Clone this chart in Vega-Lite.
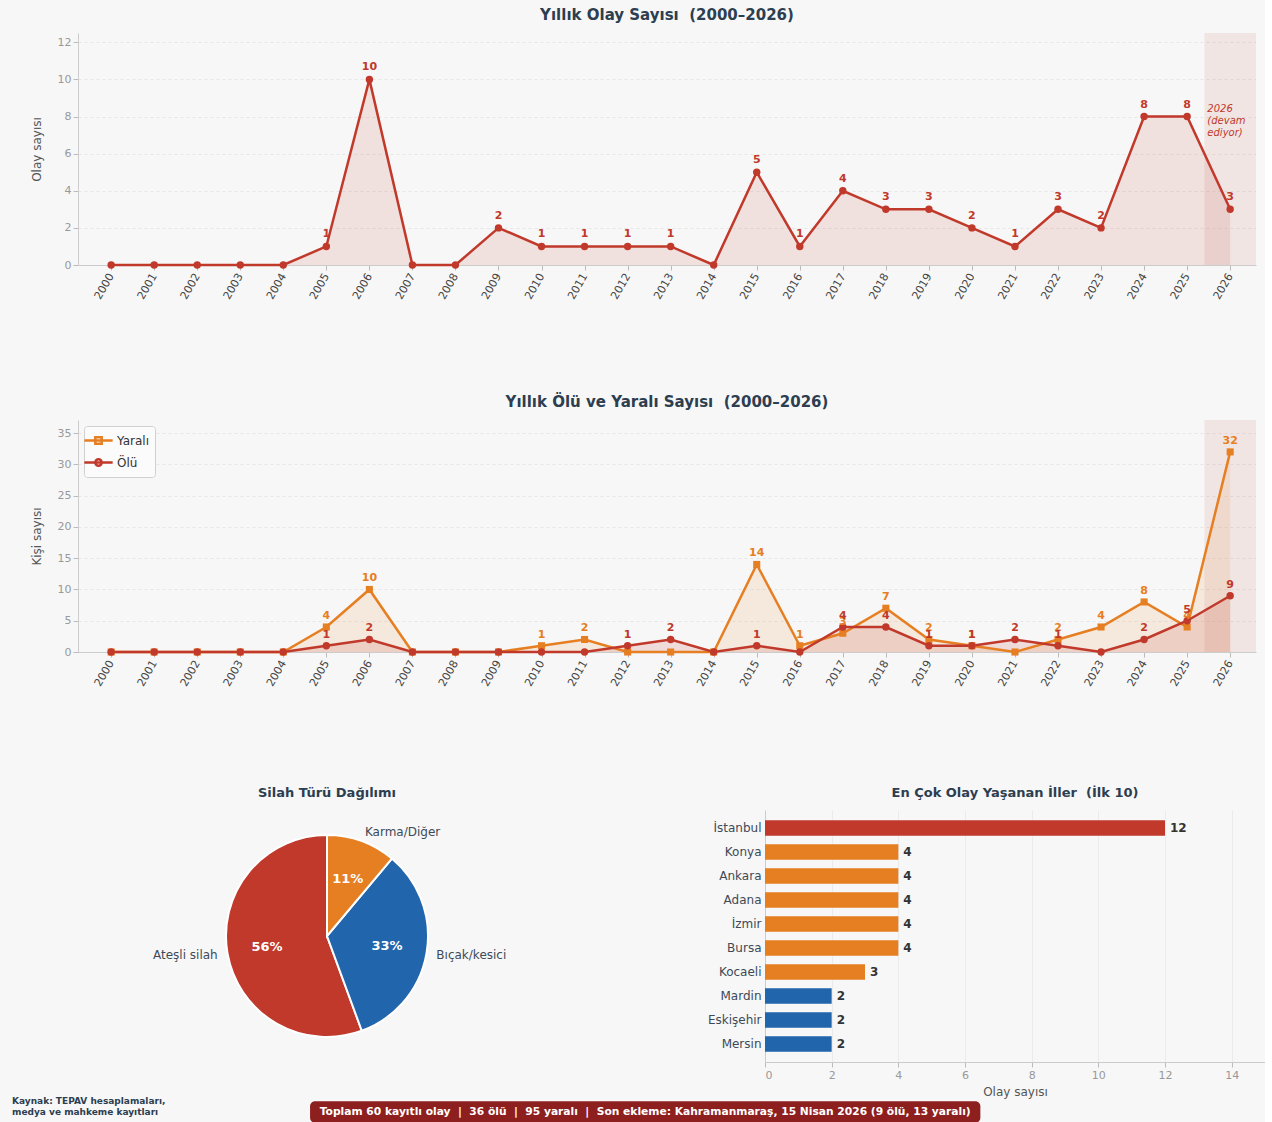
{
  "$schema": "https://vega.github.io/schema/vega-lite/v6.json",
  "background": "#f7f7f7",
  "padding": {"left": 12, "top": 8, "right": 0, "bottom": 0},
  "config": {
    "font": "DejaVu Sans",
    "view": {"stroke": null},
    "axis": {"domainColor": "#cccccc", "tickColor": "#bbbbbb", "labelColor": "#999999", "titleColor": "#555555", "titleFontWeight": "normal", "titleFontSize": 12, "labelFontSize": 11, "gridColor": "#e6e6e6", "gridDash": [3, 3]},
    "title": {"color": "#2c3e50", "fontSize": 15, "fontWeight": "bold", "anchor": "middle"}
  },
  "datasets": {
    "yearly": [
      {"yil": 2000, "Olay": 0, "Yaralı": 0, "Ölü": 0},
      {"yil": 2001, "Olay": 0, "Yaralı": 0, "Ölü": 0},
      {"yil": 2002, "Olay": 0, "Yaralı": 0, "Ölü": 0},
      {"yil": 2003, "Olay": 0, "Yaralı": 0, "Ölü": 0},
      {"yil": 2004, "Olay": 0, "Yaralı": 0, "Ölü": 0},
      {"yil": 2005, "Olay": 1, "Yaralı": 4, "Ölü": 1},
      {"yil": 2006, "Olay": 10, "Yaralı": 10, "Ölü": 2},
      {"yil": 2007, "Olay": 0, "Yaralı": 0, "Ölü": 0},
      {"yil": 2008, "Olay": 0, "Yaralı": 0, "Ölü": 0},
      {"yil": 2009, "Olay": 2, "Yaralı": 0, "Ölü": 0},
      {"yil": 2010, "Olay": 1, "Yaralı": 1, "Ölü": 0},
      {"yil": 2011, "Olay": 1, "Yaralı": 2, "Ölü": 0},
      {"yil": 2012, "Olay": 1, "Yaralı": 0, "Ölü": 1},
      {"yil": 2013, "Olay": 1, "Yaralı": 0, "Ölü": 2},
      {"yil": 2014, "Olay": 0, "Yaralı": 0, "Ölü": 0},
      {"yil": 2015, "Olay": 5, "Yaralı": 14, "Ölü": 1},
      {"yil": 2016, "Olay": 1, "Yaralı": 1, "Ölü": 0},
      {"yil": 2017, "Olay": 4, "Yaralı": 3, "Ölü": 4},
      {"yil": 2018, "Olay": 3, "Yaralı": 7, "Ölü": 4},
      {"yil": 2019, "Olay": 3, "Yaralı": 2, "Ölü": 1},
      {"yil": 2020, "Olay": 2, "Yaralı": 1, "Ölü": 1},
      {"yil": 2021, "Olay": 1, "Yaralı": 0, "Ölü": 2},
      {"yil": 2022, "Olay": 3, "Yaralı": 2, "Ölü": 1},
      {"yil": 2023, "Olay": 2, "Yaralı": 4, "Ölü": 0},
      {"yil": 2024, "Olay": 8, "Yaralı": 8, "Ölü": 2},
      {"yil": 2025, "Olay": 8, "Yaralı": 4, "Ölü": 5},
      {"yil": 2026, "Olay": 3, "Yaralı": 32, "Ölü": 9}
    ],
    "silah": [
      {"tur": "Ateşli silah", "pay": 55.6, "etiket": "56%"},
      {"tur": "Bıçak/kesici", "pay": 33.3, "etiket": "33%"},
      {"tur": "Karma/Diğer", "pay": 11.1, "etiket": "11%"}
    ],
    "iller": [
      {"il": "İstanbul", "n": 12},
      {"il": "Konya", "n": 4},
      {"il": "Ankara", "n": 4},
      {"il": "Adana", "n": 4},
      {"il": "İzmir", "n": 4},
      {"il": "Bursa", "n": 4},
      {"il": "Kocaeli", "n": 3},
      {"il": "Mardin", "n": 2},
      {"il": "Eskişehir", "n": 2},
      {"il": "Mersin", "n": 2}
    ]
  },
  "resolve": {"scale": {"color": "independent", "shape": "independent", "stroke": "independent"}, "legend": {"color": "independent", "shape": "independent", "stroke": "independent"}},
  "vconcat": [
    {
      "resolve": {"scale": {"color": "independent", "shape": "independent", "stroke": "independent"}, "legend": {"color": "independent", "shape": "independent", "stroke": "independent"}},
      "vconcat": [
        {
          "resolve": {"scale": {"color": "independent", "shape": "independent", "stroke": "independent"}, "legend": {"color": "independent", "shape": "independent", "stroke": "independent"}},
          "vconcat": [
            {
              "width": 1178,
              "height": 232,
              "title": {"text": "Yıllık Olay Sayısı\u00a0\u00a0(2000–2026)", "offset": 10},
              "data": {"name": "yearly"},
              "encoding": {
                "x": {"field": "yil", "type": "quantitative", "scale": {"domain": [1999.23, 2026.6], "nice": false, "zero": false},
                  "axis": {"values": [2000,2001,2002,2003,2004,2005,2006,2007,2008,2009,2010,2011,2012,2013,2014,2015,2016,2017,2018,2019,2020,2021,2022,2023,2024,2025,2026], "format": "d", "labelAngle": -60, "labelAlign": "right", "labelBaseline": "middle", "labelColor": "#444444", "grid": false, "title": null, "labelPadding": 4, "labelOverlap": false}},
                "y": {"field": "Olay", "type": "quantitative", "scale": {"domain": [0, 12.5], "nice": false},
                  "axis": {"values": [0,2,4,6,8,10,12], "tickCount": 7, "title": "Olay sayısı", "grid": true, "titlePadding": 14, "labelOverlap": false}}
              },
              "layer": [
                {
                  "transform": [{"filter": "datum.yil === 2026"}],
                  "mark": {"type": "rect", "color": "#c0392b", "opacity": 0.09},
                  "encoding": {
                    "x": {"datum": 2025.4, "type": "quantitative"},
                    "x2": {"datum": 2026.6},
                    "y": {"datum": 0, "type": "quantitative"},
                    "y2": {"datum": 12.5}
                  }
                },
                {"mark": {"type": "area", "color": "#c0392b", "opacity": 0.12}},
                {"mark": {"type": "line", "color": "#c0392b", "strokeWidth": 2.5}},
                {"mark": {"type": "point", "filled": true, "color": "#c0392b", "size": 55, "opacity": 1}},
                {
                  "transform": [{"filter": "datum.Olay > 0"}],
                  "mark": {"type": "text", "color": "#c0392b", "fontWeight": "bold", "fontSize": 11, "dy": -12},
                  "encoding": {"text": {"field": "Olay"}}
                },
                {
                  "transform": [{"filter": "datum.yil === 2026"}],
                  "mark": {"type": "text", "text": ["2026", "(devam", "ediyor)"], "align": "left", "baseline": "top", "fontStyle": "italic", "fontSize": 10, "lineHeight": 12, "color": "#c0392b"},
                  "encoding": {"x": {"datum": 2025.47, "type": "quantitative"}, "y": {"datum": 8.65, "type": "quantitative"}}
                }
              ]
            },
            {
              "width": 1178,
              "height": 232,
              "title": {"text": "Yıllık Ölü ve Yaralı Sayısı\u00a0\u00a0(2000–2026)", "offset": 10},
              "data": {"name": "yearly"},
              "transform": [{"fold": ["Yaralı", "Ölü"], "as": ["tur", "deger"]}],
              "encoding": {
                "x": {"field": "yil", "type": "quantitative", "scale": {"domain": [1999.23, 2026.6], "nice": false, "zero": false},
                  "axis": {"values": [2000,2001,2002,2003,2004,2005,2006,2007,2008,2009,2010,2011,2012,2013,2014,2015,2016,2017,2018,2019,2020,2021,2022,2023,2024,2025,2026], "format": "d", "labelAngle": -60, "labelAlign": "right", "labelBaseline": "middle", "labelColor": "#444444", "grid": false, "title": null, "labelPadding": 4, "labelOverlap": false}},
                "y": {"field": "deger", "type": "quantitative", "stack": null, "scale": {"domain": [0, 37.1], "nice": false},
                  "axis": {"values": [0,5,10,15,20,25,30,35], "tickCount": 8, "title": "Kişi sayısı", "grid": true, "titlePadding": 14, "labelOverlap": false}}
              },
              "layer": [
                {
                  "transform": [{"filter": "datum.yil === 2026 && datum.tur === 'Ölü'"}],
                  "mark": {"type": "rect", "color": "#c0392b", "opacity": 0.09},
                  "encoding": {
                    "x": {"datum": 2025.4, "type": "quantitative"},
                    "x2": {"datum": 2026.6},
                    "y": {"datum": 0, "type": "quantitative"},
                    "y2": {"datum": 37.1}
                  }
                },
                {
                  "transform": [{"filter": "datum.tur === 'Yaralı'"}],
                  "mark": {"type": "area", "opacity": 0.12, "color": "#e67e22"}
                },
                {
                  "transform": [{"filter": "datum.tur === 'Ölü'"}],
                  "mark": {"type": "area", "opacity": 0.14, "color": "#c0392b"}
                },
                {
                  "transform": [{"filter": "datum.tur === 'Yaralı'"}],
                  "mark": {"type": "line", "strokeWidth": 2.5, "color": "#e67e22"}
                },
                {
                  "transform": [{"filter": "datum.tur === 'Ölü'"}],
                  "mark": {"type": "line", "strokeWidth": 2.5, "color": "#c0392b"}
                },
                {
                  "transform": [{"filter": "datum.tur === 'Yaralı'"}],
                  "mark": {"type": "square", "size": 50, "opacity": 1, "color": "#e67e22"}
                },
                {
                  "transform": [{"filter": "datum.tur === 'Ölü'"}],
                  "mark": {"type": "circle", "size": 55, "opacity": 1, "color": "#c0392b"}
                },
                {
                  "transform": [{"filter": "datum.deger > 0 && datum.tur === 'Yaralı'"}],
                  "mark": {"type": "text", "fontWeight": "bold", "fontSize": 11, "dy": -11, "color": "#e67e22"},
                  "encoding": {"text": {"field": "deger"}}
                },
                {
                  "transform": [{"filter": "datum.deger > 0 && datum.tur === 'Ölü'"}],
                  "mark": {"type": "text", "fontWeight": "bold", "fontSize": 11, "dy": -11, "color": "#c0392b"},
                  "encoding": {"text": {"field": "deger"}}
                },
                {
                  "transform": [{"filter": "datum.yil === 2000"}],
                  "mark": {"type": "point", "filled": true, "opacity": 0},
                  "encoding": {
                    "color": {"field": "tur", "type": "nominal", "scale": {"domain": ["Yaralı", "Ölü"], "range": ["#e67e22", "#c0392b"]}, "legend": {"title": null, "orient": "top-left", "offset": 6, "fillColor": "#fbfbfb", "strokeColor": "#d0d0d0", "padding": 6, "cornerRadius": 3, "labelFontSize": 12, "labelColor": "#333333", "symbolSize": 200, "symbolOpacity": 1, "symbolStrokeWidth": 2.5, "rowPadding": 5, "labelOffset": 10}},
                    "stroke": {"field": "tur", "type": "nominal", "scale": {"domain": ["Yaralı", "Ölü"], "range": ["#e67e22", "#c0392b"]}},
                    "shape": {"field": "tur", "type": "nominal", "scale": {"domain": ["Yaralı", "Ölü"], "range": ["M-2,0H2M-0.45,-0.45H0.45V0.45H-0.45Z", "M-2,0H2M0.45,0A0.45,0.45,0,1,1,-0.45,0A0.45,0.45,0,1,1,0.45,0Z"]}}
                  }
                }
              ]
            }
          ],
          "spacing": 94
        },
        {
          "hconcat": [
            {
              "width": 498,
              "height": 252,
              "title": {"text": "Silah Türü Dağılımı", "fontSize": 13, "offset": 10},
              "data": {"name": "silah"},
              "encoding": {
                "theta": {"field": "pay", "type": "quantitative", "stack": true},
                "order": {"field": "tur", "sort": "descending"}
              },
              "layer": [
                {
                  "mark": {"type": "arc", "outerRadius": 101, "stroke": "#ffffff", "strokeWidth": 2},
                  "encoding": {"color": {"field": "tur", "type": "nominal", "scale": {"domain": ["Ateşli silah", "Bıçak/kesici", "Karma/Diğer"], "range": ["#c0392b", "#2166ac", "#e67e22"]}, "legend": null}}
                },
                {
                  "mark": {"type": "text", "radius": 61, "color": "#ffffff", "fontWeight": "bold", "fontSize": 13},
                  "encoding": {"text": {"field": "etiket"}}
                },
                {
                  "mark": {"type": "text", "radius": 111, "align": "left", "baseline": "middle", "color": "#3d4a57", "fontSize": 12},
                  "encoding": {"text": {"condition": {"test": "datum.tur !== 'Ateşli silah'", "field": "tur"}, "value": ""}}
                },
                {
                  "mark": {"type": "text", "radius": 111, "align": "right", "baseline": "middle", "color": "#3d4a57", "fontSize": 12},
                  "encoding": {"text": {"condition": {"test": "datum.tur === 'Ateşli silah'", "field": "tur"}, "value": ""}}
                }
              ]
            },
            {
              "width": 500,
              "height": 252,
              "title": {"text": "En Çok Olay Yaşanan İller\u00a0\u00a0(İlk 10)", "fontSize": 13, "offset": 10},
              "data": {"name": "iller"},
              "encoding": {
                "y": {"field": "il", "type": "nominal", "sort": null, "scale": {"paddingInner": 0, "paddingOuter": 0.25},
                  "axis": {"title": null, "labelFontSize": 12, "labelColor": "#3d4a57", "ticks": false, "labelPadding": 4}},
                "x": {"field": "n", "type": "quantitative", "scale": {"domain": [0, 15], "nice": false},
                  "axis": {"values": [0,2,4,6,8,10,12,14], "title": "Olay sayısı", "grid": true, "gridDash": [], "gridColor": "#ebebeb", "titlePadding": 6, "labelOverlap": false}}
              },
              "layer": [
                {
                  "mark": {"type": "bar", "height": {"band": 0.65}},
                  "encoding": {"color": {"condition": [{"test": "datum.n >= 10", "value": "#c0392b"}, {"test": "datum.n >= 3", "value": "#e67e22"}], "value": "#2166ac"}}
                },
                {
                  "mark": {"type": "text", "align": "left", "dx": 5, "fontWeight": "bold", "fontSize": 12, "color": "#333333"},
                  "encoding": {"text": {"field": "n"}}
                }
              ]
            }
          ],
          "spacing": 131
        }
      ],
      "spacing": 99
    },
    {
      "width": 1178,
      "height": 24,
      "data": {"values": [{"kaynak": ["Kaynak: TEPAV hesaplamaları,", "medya ve mahkeme kayıtları"], "ozet": "Toplam 60 kayıtlı olay\u00a0\u00a0|\u00a0\u00a036 ölü\u00a0\u00a0|\u00a0\u00a095 yaralı\u00a0\u00a0|\u00a0\u00a0Son ekleme: Kahramanmaraş, 15 Nisan 2026 (9 ölü, 13 yaralı)"}]},
      "layer": [
        {
          "mark": {"type": "rect", "color": "#8e1f1f", "cornerRadius": 5},
          "encoding": {
            "x": {"datum": 0.197, "type": "quantitative", "scale": {"domain": [0, 1], "nice": false}, "axis": null},
            "x2": {"datum": 0.766},
            "y": {"datum": 0.05, "type": "quantitative", "scale": {"domain": [0, 1], "nice": false}, "axis": null},
            "y2": {"datum": 0.95}
          }
        },
        {
          "mark": {"type": "text", "color": "#ffffff", "fontWeight": "bold", "fontSize": 10.7, "baseline": "middle"},
          "encoding": {"x": {"datum": 0.4815, "type": "quantitative"}, "y": {"datum": 0.5, "type": "quantitative"}, "text": {"field": "ozet"}}
        },
        {
          "mark": {"type": "text", "color": "#2c3e50", "fontWeight": "bold", "fontSize": 9, "align": "left", "baseline": "middle", "lineHeight": 11},
          "encoding": {"x": {"datum": -0.056, "type": "quantitative"}, "y": {"datum": 0.95, "type": "quantitative"}, "text": {"field": "kaynak"}}
        }
      ]
    }
  ],
  "spacing": 0
}
